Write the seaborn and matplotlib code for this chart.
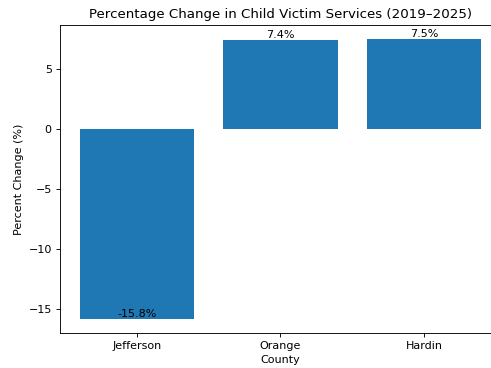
import matplotlib
matplotlib.use("Agg")
import matplotlib.pyplot as plt
import seaborn as sns

counties = ["Jefferson", "Orange", "Hardin"]
pct_change = [-15.8, 7.4, 7.5]

# reference looks cropped on the right, so the axes runs past the figure edge
fig = plt.figure(figsize=(491 / 80, 368 / 80), dpi=80)
ax = fig.add_axes([0.1212, 0.0951, 0.900, 0.8375])

sns.barplot(x=counties, y=pct_change, color="#1f77b4", saturation=1, width=0.8, ax=ax)

for i, v in enumerate(pct_change):
    ax.text(i, v, "{0}%".format(v), ha="center", va="bottom")

ax.set_title("Percentage Change in Child Victim Services (2019\u20132025)")
ax.set_xlabel("County")
ax.set_ylabel("Percent Change (%)")
ax.set_xlim(-0.54, 2.54)
ax.set_ylim(-16.965, 8.665)
ax.spines["right"].set_visible(False)

fig.savefig("out.png")
